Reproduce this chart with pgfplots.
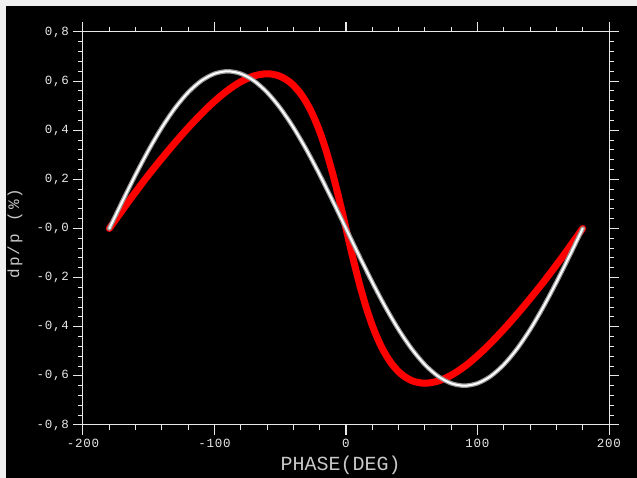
\documentclass[border=0pt]{standalone}
\usepackage{pgfplots}
\usepackage{pgfplotstable}
\pgfplotsset{compat=1.18}
\usepackage{fontspec}
\setmainfont{Liberation Sans}
\newfontfamily\tickfont[LetterSpace=6]{Liberation Mono}
\newfontfamily\xlabfont{Liberation Mono}
\newfontfamily\ylabfont[LetterSpace=14]{Liberation Mono}
\definecolor{fg}{RGB}{232,232,232}
\definecolor{lab}{RGB}{200,200,200}
\definecolor{framec}{RGB}{240,240,240}
\definecolor{wedge}{RGB}{150,150,150}

\pgfplotstableread{
x y
-180 0
-170 0.1111
-160 0.2189
-150 0.3200
-140 0.4114
-130 0.4903
-120 0.5543
-110 0.6014
-100 0.6303
-90 0.6400
-80 0.6303
-70 0.6014
-60 0.5543
-50 0.4903
-40 0.4114
-30 0.3200
-20 0.2189
-10 0.1111
0 0
10 -0.1111
20 -0.2189
30 -0.3200
40 -0.4114
50 -0.4903
60 -0.5543
70 -0.6014
80 -0.6303
90 -0.6400
100 -0.6303
110 -0.6014
120 -0.5543
130 -0.4903
140 -0.4114
150 -0.3200
160 -0.2189
170 -0.1111
180 0
}\whitedata

\pgfplotstableread{
x y
-180 0
-164.79 0.1140
-149.74 0.2210
-135.00 0.3180
-120.72 0.4060
-107.02 0.4826
-94.02 0.5456
-81.81 0.5920
-70.46 0.6204
-60.00 0.6300
-50.46 0.6204
-41.81 0.5920
-34.02 0.5456
-27.02 0.4826
-20.72 0.4050
-15.00 0.3150
-9.74 0.2155
-4.79 0.1094
0 0
4.79 -0.1094
9.74 -0.2155
15.00 -0.3150
20.72 -0.4050
27.02 -0.4826
34.02 -0.5456
41.81 -0.5920
50.46 -0.6204
60.00 -0.6300
70.46 -0.6204
81.81 -0.5920
94.02 -0.5456
107.02 -0.4826
120.72 -0.4060
135.00 -0.3180
149.74 -0.2210
164.79 -0.1140
180 0
}\reddata

\begin{document}
\begin{tikzpicture}
\fill[framec] (-83pt,-53pt) rectangle (554pt,425pt);
\fill[black] (-77pt,-53pt) rectangle (554pt,419pt);
\begin{axis}[
  at={(0pt,0pt)}, anchor=south west,
  scale only axis, width=526pt, height=393pt,
  xmin=-200, xmax=200, ymin=-0.8, ymax=0.8,
  axis line style={fg, line width=1pt},
  every tick/.style={fg, line width=1pt},
  tick align=outside,
  major tick length=10pt, minor tick length=5pt,
  xtick={-200,-100,0,100,200},
  xticklabels={-200,-100,0,100,200},
  ytick={-0.8,-0.6,-0.4,-0.2,0,0.2,0.4,0.6,0.8},
  yticklabels={{-0,8},{-0,6},{-0,4},{-0,2},{-0,0},{0,2},{0,4},{0,6},{0,8}},
  minor x tick num=4, minor y tick num=4,
  tick label style={font=\tickfont\fontsize{12.5}{14}\selectfont, text=fg},
  xticklabel style={inner sep=0pt, yshift=-4pt},
  yticklabel style={inner sep=0pt, xshift=-4pt},
  xlabel={PHASE(DEG)},
  ylabel={dp/p (\%)},
  xlabel style={font=\xlabfont\fontsize{20}{22}\selectfont, text=lab, at={(axis description cs:0.49,0)}, anchor=north, inner sep=0pt, yshift=-31pt},
  ylabel style={font=\ylabfont\fontsize{16}{18}\selectfont, text=lab, at={(axis description cs:-0.1293,0.487)}, anchor=center, inner sep=0pt},
]
\addplot[red, line width=7pt, smooth, line join=round, line cap=round] table[x=x,y=y] {\reddata};
\addplot[wedge, line width=4.5pt, smooth, line join=round, line cap=round] table[x=x,y=y] {\whitedata};
\addplot[white, line width=2pt, smooth, line join=round, line cap=round] table[x=x,y=y] {\whitedata};
\end{axis}
\end{tikzpicture}
\end{document}
